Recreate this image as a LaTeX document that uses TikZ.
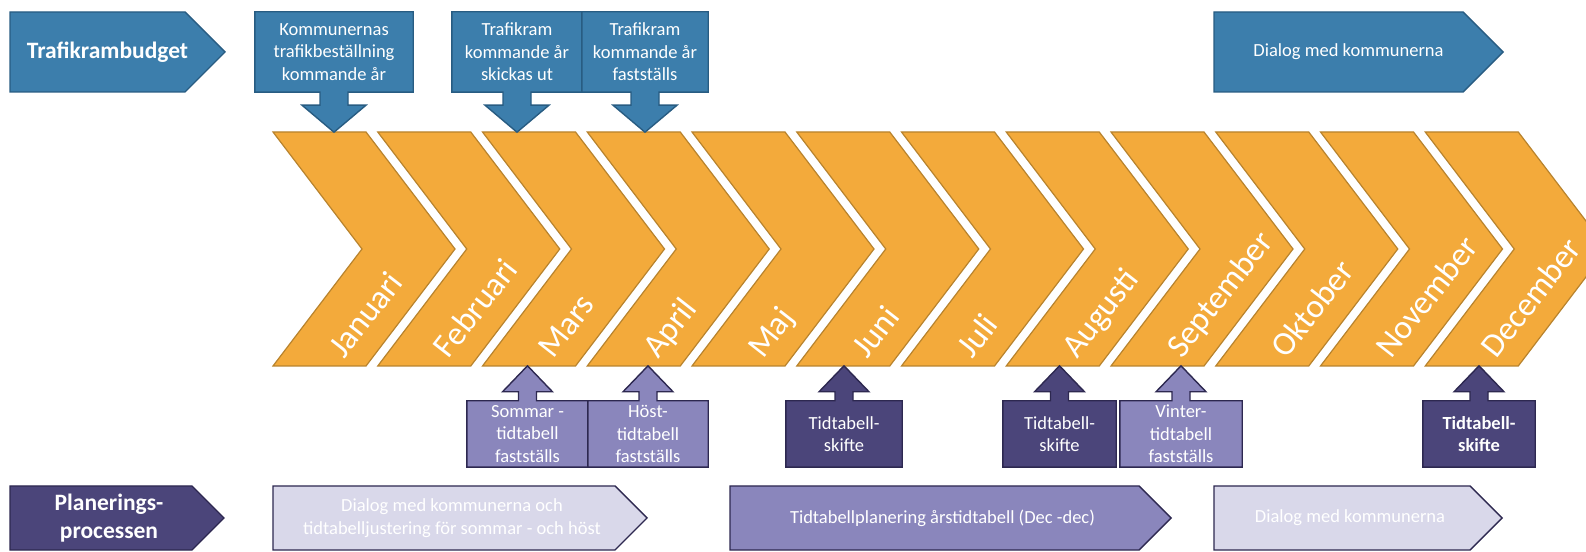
\documentclass[tikz,border=0pt]{standalone}
\usepackage{fontspec}
\setmainfont{Carlito}
\usepackage{tikz}
\usetikzlibrary{calc,positioning}
\usepackage{xcolor}
\definecolor{tbblue}{RGB}{60,126,172}
\definecolor{tbline}{RGB}{40,92,130}
\definecolor{mthorange}{RGB}{243,170,59}
\definecolor{mthline}{RGB}{184,131,45}
\definecolor{pdark}{RGB}{75,69,122}
\definecolor{pmid}{RGB}{138,134,188}
\definecolor{plight}{RGB}{217,216,234}
\definecolor{pline}{RGB}{45,40,80}
\newcommand\boxfont{\fontsize{18.5}{22.6}\selectfont}
\newcommand\headfont{\fontsize{23.5}{28}\selectfont\bfseries}
\newcommand\monthfont{\fontsize{33.5}{38}\selectfont}

\begin{document}
\begin{tikzpicture}[x=1pt, y=1pt,
		every node/.style={text=white, inner sep=0pt, font=\boxfont},
		bluebox/.style={fill=tbblue, draw=tbline, line width=1.4pt},
		chevbox/.style={fill=mthorange, draw=mthline, line width=1.2pt},
		darkbox/.style={fill=pdark, draw=pline, line width=1.4pt},
		midbox/.style={fill=pmid, draw=pline, line width=1.4pt},
		lightbox/.style={fill=plight, draw=pline, line width=1.4pt},
		month/.style={font=\monthfont, rotate=52, anchor=base west},
		head/.style={font=\headfont, align=center},
	]
		\newcommand\chw{93}
		\newcommand\chd{89}
		\newcommand\chh{117}
		% pentagon: name, style, left, point, top, bottom
		\newcommand\pent[6]{%
			\draw[#2] (#3,#5) -- ({#4-(#5-#6)/2},#5) -- (#4,{(#5+#6)/2})
				-- ({#4-(#5-#6)/2},#6) -- (#3,#6) -- cycle;
			\coordinate (#1) at ({(#3+#4)/2-(#5-#6)/8},{(#5+#6)/2});}
		% box with arrow down: name, centre, width, style, text
		\newcommand\dncall[5]{%
			\node[minimum width=#3, minimum height=80pt] (#1) at (#2) {};
			\coordinate[below=40pt of #1.south] (#1t);
			\draw[#4] (#1.north west) -- (#1.north east) -- (#1.south east)
				-- ($(#1.south)+(14,0)$) -- ++(0,-13) -- ++(18,0) -- (#1t)
				-- ++(-32,27) -- ++(18,0) -- ++(0,13) -- (#1.south west) -- cycle;
			\node[align=center] at (#1) {#5};}
		% box with arrow up: name, centre, width, style, text
		\newcommand\upcall[5]{%
			\node[minimum width=#3, minimum height=66pt] (#1) at (#2) {};
			\coordinate[above=35pt of #1.north] (#1t);
			\draw[#4] (#1.south west) -- (#1.south east) -- (#1.north east)
				-- ($(#1.north)+(9,0)$) -- ++(0,9) -- ++(16,0) -- (#1t)
				-- ++(-25,-26) -- ++(16,0) -- ++(0,-9) -- (#1.north west) -- cycle;
			\node[align=center] at (#1) {#5};}

		\clip (0,0) rectangle (1586,551);

		% months
		\foreach \m [count=\i from 0] in {Januari,Februari,Mars,April,Maj,Juni,Juli,Augusti,September,Oktober,November,December}{
			\pgfmathsetmacro\xo{273+104.75*\i}
			\draw[chevbox] (\xo,419) -- ++(\chw,0) -- ++(\chd,-\chh) -- ++(-\chd,-\chh)
				-- ++(-\chw,0) -- ++(\chd,\chh) -- cycle;
			\node[month] (m\i) at (\xo+71,191) {\m};
		}

		% trafikrambudget
		\pent{tb}{bluebox}{10}{225}{539}{459}
		\node[head] at (tb) {Trafikrambudget};
		\dncall{kom}{334,499}{158pt}{bluebox}{Kommunernas\\trafikbeställning\\kommande år}
		\dncall{sk}{517,499}{130pt}{bluebox}{Trafikram\\kommande år\\skickas ut}
		\dncall{fa}{645,499}{126pt}{bluebox}{Trafikram\\kommande år\\fastställs}
		\pent{dt}{bluebox}{1214}{1503}{539}{459}
		\node at (dt) {Dialog med kommunerna};

		% tidtabeller
		\upcall{so}{527.5,117}{121pt}{midbox}{Sommar -\\tidtabell\\fastställs}
		\upcall{ho}{648,117}{120pt}{midbox}{Höst-\\tidtabell\\fastställs}
		\upcall{s1}{844,117}{116pt}{darkbox}{Tidtabell-\\skifte}
		\upcall{s2}{1059.5,117}{113pt}{darkbox}{Tidtabell-\\skifte}
		\upcall{vi}{1181,117}{122pt}{midbox}{Vinter-\\tidtabell\\fastställs}
		\upcall{s3}{1479,117}{112pt}{darkbox}{\textbf{Tidtabell-}\\\textbf{skifte}}

		% planeringsprocessen
		\pent{pl}{darkbox}{10}{224}{65}{1}
		\node[head] at (pl) {Planerings-\\processen};
		\pent{dl}{lightbox}{273}{647}{65}{1}
		\node[align=center] at (dl) {Dialog med kommunerna och\\tidtabelljustering för sommar - och höst};
		\pent{tp}{midbox}{730}{1171}{65}{1}
		\node at (tp) {Tidtabellplanering årstidtabell (Dec -dec)};
		\pent{db}{lightbox}{1214}{1502}{65}{1}
		\node at (db) {Dialog med kommunerna};
\end{tikzpicture}
\end{document}
